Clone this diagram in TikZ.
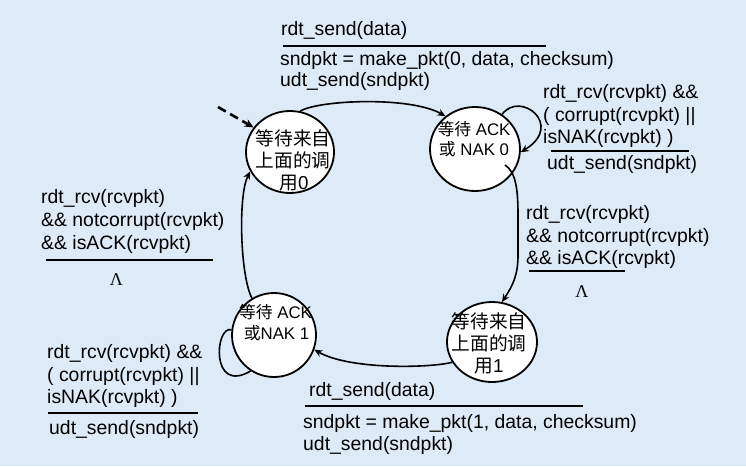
\documentclass[tikz,border=0pt]{standalone}
\usepackage{fontspec}
\setmainfont{Liberation Sans}
\newfontfamily\cjk{Noto Sans CJK SC}
\newfontfamily\lamfont{Liberation Serif}
\usetikzlibrary{shapes.geometric,arrows.meta}
\definecolor{bgblue}{RGB}{221,234,248}
\begin{document}
\begin{tikzpicture}[x=1pt,y=-1pt,
  lbl/.style={anchor=base west,inner sep=0pt,font=\fontsize{19.4}{23}\selectfont},
  st/.style={ellipse,draw,line width=1.8pt,fill=white,inner sep=0pt},
  bigtxt/.style={anchor=base,inner sep=0pt,font=\fontsize{18.7}{22}\selectfont},
  smalltxt/.style={anchor=base,inner sep=0pt,font=\fontsize{16.8}{20}\selectfont},
  lam/.style={inner sep=0pt,font=\lamfont\fontsize{18}{18}\selectfont},
  bar/.style={line width=2.6pt},
  tr/.style={line width=1.6pt,-{Stealth[length=8pt,width=7pt]}},
]
\fill[bgblue] (0,0) rectangle (746,466);
\useasboundingbox (0,0) rectangle (746,466);

% states
\node[st,minimum width=88pt,minimum height=82pt] (s0) at (290,152) {};
\node[st,minimum width=90pt,minimum height=84pt] (s1) at (475,149) {};
\node[st,minimum width=90pt,minimum height=80pt] (s2) at (492,342) {};
\node[st,minimum width=84pt,minimum height=84pt] (s3) at (274,335) {};

% state texts
\node[bigtxt] (s0a) at (293,145) {\cjk 等待来自};
\node[bigtxt] (s0b) at (293,167) {\cjk 上面的调};
\node[bigtxt] (s0c) at (294,189) {{\cjk 用}0};
\node[smalltxt] (s1a) at (474,135) {{\cjk 等待} ACK};
\node[smalltxt] (s1b) at (474,155) {{\cjk 或} NAK 0};
\node[bigtxt] (s2a) at (489,328) {\cjk 等待来自};
\node[bigtxt] (s2b) at (489,350) {\cjk 上面的调};
\node[bigtxt] (s2c) at (489,372) {{\cjk 用}1};
\node[smalltxt] (s3a) at (275.5,318) {{\cjk 等待} ACK};
\node[smalltxt] (s3b) at (276.5,339) {{\cjk 或}NAK 1};

% top label
\node[lbl] (t1) at (281,35) {rdt\_send(data)};
\draw[bar] (283,46) -- (546,46);
\node[lbl] (t2) at (280,65) {sndpkt = make\_pkt(0, data, checksum)};
\node[lbl] (t3) at (280,86) {udt\_send(sndpkt)};

% top-right label
\node[lbl] (r1) at (543,98) {rdt\_rcv(rcvpkt) \&\&};
\node[lbl] (r2) at (543,121) {( corrupt(rcvpkt) ||};
\node[lbl] (r3) at (543,143) {isNAK(rcvpkt) )};
\draw[bar] (551,151) -- (689,151);
\node[lbl] (r4) at (547,169) {udt\_send(sndpkt)};

% left middle label
\node[lbl] (l1) at (41,203) {rdt\_rcv(rcvpkt)};
\node[lbl] (l2) at (41,226) {\&\& notcorrupt(rcvpkt)};
\node[lbl] (l3) at (41,249) {\&\& isACK(rcvpkt)};
\draw[bar] (46,260) -- (213,260);
\node[lam] (l4) at (116.5,280) {Λ};

% right middle label
\node[lbl] (m1) at (526,219) {rdt\_rcv(rcvpkt)};
\node[lbl] (m2) at (526,242) {\&\& notcorrupt(rcvpkt)};
\node[lbl] (m3) at (526,264) {\&\& isACK(rcvpkt)};
\draw[bar] (529,271) -- (625,271);
\node[lam] (m4) at (582,292) {Λ};

% bottom-left label
\node[lbl] (b1) at (47,358) {rdt\_rcv(rcvpkt) \&\&};
\node[lbl] (b2) at (47,381) {( corrupt(rcvpkt) ||};
\node[lbl] (b3) at (47,403) {isNAK(rcvpkt) )};
\draw[bar] (48,413) -- (198,413);
\node[lbl] (b4) at (49,434) {udt\_send(sndpkt)};

% bottom-center label
\node[lbl] (c1) at (309,396) {rdt\_send(data)};
\draw[bar] (305,406) -- (583,406);
\node[lbl] (c2) at (303,428) {sndpkt = make\_pkt(1, data, checksum)};
\node[lbl] (c3) at (303,450) {udt\_send(sndpkt)};

% transitions
\coordinate (init) at (218,107);
\draw[line width=2.6pt,dash pattern=on 9pt off 5pt,-{Stealth[length=9pt,width=8pt]}] (init) -- (s0.146);
\draw[tr] (s0.76) .. controls (318,100) and (410,96) .. (s1.132);
\draw[tr] (s1.52) .. controls (520,90) and (565,125) .. (s1.-4);
\coordinate (s1in) at (505,165);
\draw[tr] (s1in) .. controls (516,172) and (518,190) .. (518,215) -- (518,255) .. controls (518,275) and (513,285) .. (s2.76);
\draw[tr] (s2.207) .. controls (430,368) and (350,370) .. (s3.-20);
\draw[line width=1.6pt] (s3.173) .. controls (215,325) and (210,395) .. (s3.237);
\draw[tr] (s3.121) .. controls (240,275) and (238,195) .. (s0.206);
\end{tikzpicture}
\end{document}
